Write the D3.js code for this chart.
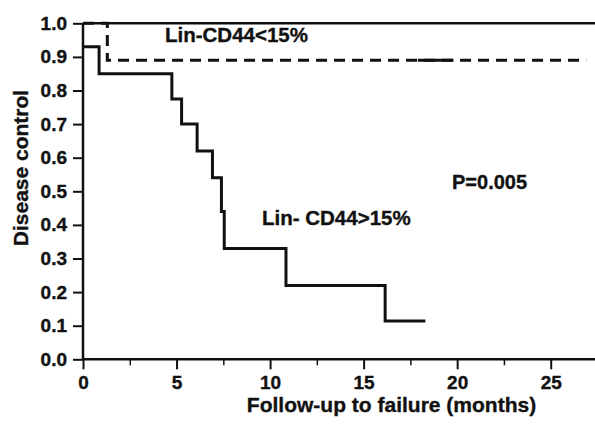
<!DOCTYPE html>
<html><head><meta charset="utf-8">
<script src="https://cdn.jsdelivr.net/npm/d3@7"></script>
<style>body{margin:0;background:#fff}svg{display:block}text{font-family:"Liberation Sans",Arial,sans-serif;font-weight:bold;fill:#111;stroke:#111;stroke-width:0.35px}</style>
</head><body><svg id="c" width="595" height="425"></svg>
<script>
// data
const highTimes = [0, 0.86, 4.75, 5.27, 6.1, 6.92, 7.4, 7.55, 10.85, 16.15, 18.3];
const highValues = [0.93, 0.85, 0.775, 0.70, 0.62, 0.54, 0.44, 0.33, 0.22, 0.114, 0.114];
const lowTimes = [0, 1.3, 26.9];
const lowValues = [1.0, 0.89, 0.89];
const lowSolidSegment = [17.9, 19.8]; // solid piece on dashed line
const xTicks = [0, 5, 10, 15, 20, 25];
const xMinorTicks = [2.5, 7.5, 12.5, 17.5, 22.5];
const yTicks = [0, 0.1, 0.2, 0.3, 0.4, 0.5, 0.6, 0.7, 0.8, 0.9, 1.0];

const svg = d3.select("#c");
const x = d3.scaleLinear().domain([0, 25]).range([83, 550.7]);
const y = d3.scaleLinear().domain([0, 1]).range([359.3, 23.3]);

// top frame line at 1.0
svg.append("line").attr("x1", x(0)).attr("x2", 595).attr("y1", y(1)).attr("y2", y(1))
  .attr("stroke", "#111").attr("stroke-width", 2.5);

// axes
const xAxis = svg.append("g").attr("transform", `translate(0,${y(0)})`)
  .call(d3.axisBottom(x).tickValues(xTicks).tickSize(10).tickPadding(6).tickFormat(d3.format("d")));
xAxis.select(".domain").remove();
xAxis.append("line").attr("x1", x(0)).attr("x2", 595).attr("stroke", "#111").attr("stroke-width", 2.5);
xAxis.selectAll(".tick line").attr("stroke", "#111").attr("stroke-width", 2);
xAxis.selectAll(".tick text").style("font-size", "19px").attr("dy", "0.72em");
svg.append("g").attr("transform", `translate(0,${y(0)})`)
  .call(d3.axisBottom(x).tickValues(xMinorTicks).tickSize(6).tickFormat(""))
  .call(g => { g.select(".domain").remove(); g.selectAll(".tick line").attr("stroke", "#111").attr("stroke-width", 1.5); });

const yAxis = svg.append("g").attr("transform", `translate(${x(0)},0)`)
  .call(d3.axisLeft(y).tickValues(yTicks).tickSize(10).tickPadding(6).tickFormat(d3.format(".1f")));
yAxis.select(".domain").remove();
yAxis.append("line").attr("y1", y(0)).attr("y2", y(1)).attr("stroke", "#111").attr("stroke-width", 2.5);
yAxis.selectAll(".tick line").attr("stroke", "#111").attr("stroke-width", 2);
yAxis.selectAll(".tick text").style("font-size", "19px");

// curves
const step = d3.line().x(d => x(d[0])).y(d => y(d[1])).curve(d3.curveStepAfter);
svg.append("path").datum(highTimes.map((t, i) => [t, highValues[i]]))
  .attr("d", step).attr("fill", "none").attr("stroke", "#111").attr("stroke-width", 3);
svg.append("path").datum(lowTimes.map((t, i) => [t, lowValues[i]]))
  .attr("d", step).attr("fill", "none").attr("stroke", "#111").attr("stroke-width", 3)
  .attr("stroke-dasharray", "11,7");
svg.append("line").attr("x1", x(lowSolidSegment[0])).attr("x2", x(lowSolidSegment[1]))
  .attr("y1", y(0.89)).attr("y2", y(0.89)).attr("stroke", "#111").attr("stroke-width", 3);

// labels
svg.append("text").attr("x", 165).attr("y", 41.7).style("font-size", "20.5px").text("Lin-CD44<15%");
svg.append("text").attr("x", 262).attr("y", 225).style("font-size", "20.5px").text("Lin- CD44>15%");
svg.append("text").attr("x", 452).attr("y", 188.5).style("font-size", "20px").text("P=0.005");
svg.append("text").attr("x", 391.5).attr("y", 411.5).attr("text-anchor", "middle").style("font-size", "21px")
  .text("Follow-up to failure (months)");
svg.append("text").attr("transform", "translate(28,168) rotate(-90)").attr("text-anchor", "middle")
  .style("font-size", "21px").text("Disease control");
</script></body></html>
